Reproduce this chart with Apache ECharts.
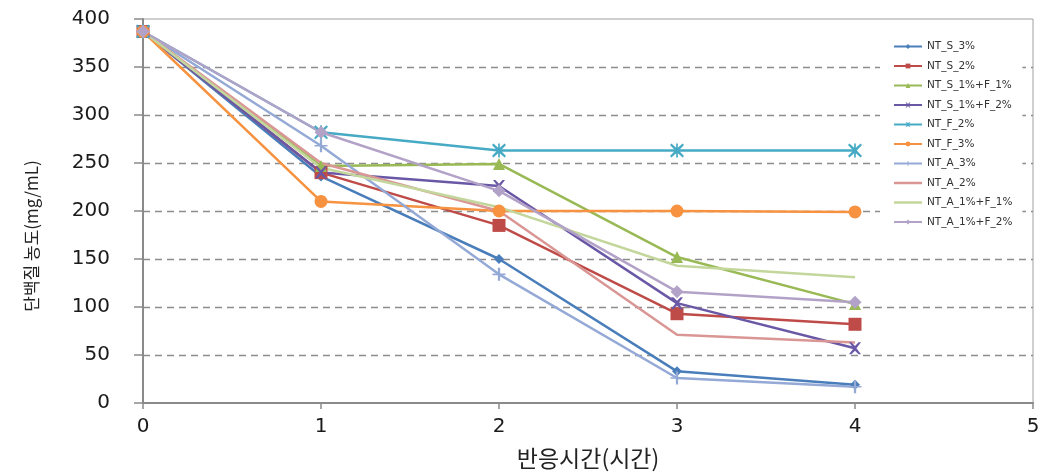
<!DOCTYPE html>
<html>
<head>
<meta charset="utf-8">
<script src="https://cdn.jsdelivr.net/npm/echarts@6/dist/echarts.min.js"></script>
<style>
html,body{margin:0;padding:0;background:#fff;}
#c{width:1057px;height:476px;}
</style>
</head>
<body>
<div id="c"></div>
<script>
const hours = [0, 1, 2, 3, 4];
const seriesNames = ['NT_S_3%','NT_S_2%','NT_S_1%+F_1%','NT_S_1%+F_2%','NT_F_2%','NT_F_3%','NT_A_3%','NT_A_2%','NT_A_1%+F_1%','NT_A_1%+F_2%'];
const ntS3   = [387, 236, 150, 33, 19];
const ntS2   = [387, 240, 185, 93, 82];
const ntS1F1 = [387, 247, 249, 152, 103];
const ntS1F2 = [387, 240, 226, 104, 57];
const ntF2   = [387, 282, 263, 263, 263];
const ntF3   = [387, 210, 200, 200, 199];
const ntA3   = [387, 268, 134, 26, 17];
const ntA2   = [387, 250, 200, 71, 63];
const ntA1F1 = [387, 245, 204, 143, 131];
const ntA1F2 = [387, 282, 221, 116, 105];
const yTicks = [0, 50, 100, 150, 200, 250, 300, 350, 400];
const xTicks = [0, 1, 2, 3, 4, 5];

const values = [ntS3, ntS2, ntS1F1, ntS1F2, ntF2, ntF3, ntA3, ntA2, ntA1F1, ntA1F2];
const colors = ['#4a7ebb','#be4b48','#98b954','#6a58a6','#46aac5','#f69240','#94a9d6','#d99694','#c3d69b','#b3a2c7'];
const xPath = 'path://M0,0 L2,0 L5,3 L8,0 L10,0 L6.2,5 L10,10 L8,10 L5,7 L2,10 L0,10 L3.8,5 Z';
const starPath = 'path://M0,1 L1,0 L5,3.6 L9,0 L10,1 L6.3,5 L10,9 L9,10 L5,6.4 L1,10 L0,9 L3.7,5 Z M4.4,0 L5.6,0 L5.6,10 L4.4,10 Z';
const plusPath = 'path://M4.3,0 L5.7,0 L5.7,4.4 L9,4.4 L9,5.6 L5.7,5.6 L5.7,10 L4.3,10 L4.3,5.6 L1,5.6 L1,4.4 L4.3,4.4 Z';
const symbols = ['diamond','rect','triangle',xPath,starPath,'circle',plusPath,'none','none','diamond'];
const sizes = [10, 13, 12, 12, 14, 13, 13, 0, 0, 13];
const linePath = 'path://M0,0 L28,0 L28,2.5 L0,2.5 Z';

const series = seriesNames.map((n, i) => ({
  name: n,
  type: 'line',
  data: hours.map((h, j) => [h, values[i][j]]),
  symbol: symbols[i],
  symbolSize: sizes[i],
  showSymbol: symbols[i] !== 'none',
  lineStyle: { color: colors[i], width: 2.5 },
  itemStyle: { color: colors[i] },
  emphasis: { disabled: true },
  animation: false
}));

const legendData = seriesNames.map((n, i) => symbols[i] === 'none'
  ? { name: n, icon: linePath, itemStyle: { color: colors[i] } }
  : { name: n });

const chart = echarts.init(document.getElementById('c'), null, { renderer: 'canvas' });
chart.setOption({
  animation: false,
  backgroundColor: '#fff',
  color: colors,
  grid: { left: 143, right: 24, top: 19, bottom: 73, show: true, borderColor: '#a0a0a0', borderWidth: 1, backgroundColor: 'transparent' },
  legend: {
    orient: 'vertical',
    left: 880,
    top: 33,
    padding: [8, 10, 14, 13],
    backgroundColor: '#fff',
    itemWidth: 28,
    itemHeight: 6,
    itemGap: 8.5,
    data: legendData,
    textStyle: { fontFamily: 'DejaVu Sans', fontSize: 10.5, color: '#333' }
  },
  xAxis: {
    type: 'value',
    min: 0, max: 5, interval: 1,
    name: '반응시간(시간)',
    nameLocation: 'middle',
    nameGap: 44,
    nameTextStyle: { fontFamily: 'Noto Sans CJK KR', fontSize: 23, color: '#222' },
    axisLine: { show: true, onZero: false, lineStyle: { color: '#8a8a8a', width: 2 } },
    axisTick: { show: true, inside: false, length: 6, lineStyle: { color: '#8a8a8a', width: 1.5 } },
    axisLabel: { margin: 14, fontFamily: 'DejaVu Sans', fontSize: 20, color: '#1a1a1a', formatter: v => xTicks.includes(v) ? String(v) : '' },
    splitLine: { show: false }
  },
  yAxis: {
    type: 'value',
    min: 0, max: 400, interval: 50,
    name: '단백질 농도(mg/mL)',
    nameLocation: 'middle',
    nameGap: 103,
    nameTextStyle: { fontFamily: 'Noto Sans CJK KR', fontSize: 17, color: '#222', padding: [0, 50, 0, 0] },
    axisLine: { show: true, lineStyle: { color: '#8a8a8a', width: 2 } },
    axisTick: { show: true, inside: false, length: 9, lineStyle: { color: '#8a8a8a', width: 1.5 } },
    axisLabel: { margin: 33, fontFamily: 'DejaVu Sans', fontSize: 20, color: '#1a1a1a', formatter: v => yTicks.includes(v) ? String(v) : '' },
    splitLine: { show: true, showMaxLine: false, showMinLine: false, lineStyle: { color: '#8c8c8c', width: 1.3, type: [7, 5] } }
  },
  series: series
});
</script>
</body>
</html>
